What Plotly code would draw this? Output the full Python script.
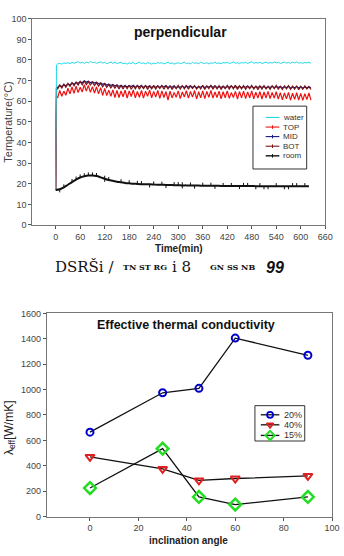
import plotly.graph_objects as go

# ---------------- top chart data (perpendicular) ----------------
TIME = [0, 2] + list(range(5, 630, 5))

WATER = [17.0, 77.6,
    78.1, 78.4, 78.0, 78.6, 78.3, 78.7, 78.2, 78.9, 78.4, 78.8,
    79.2, 78.5, 78.9, 78.3, 79.0, 78.6, 79.3, 78.7, 78.9, 78.4,
    78.8, 79.1, 78.5, 78.9, 78.2, 78.7, 79.0, 78.4, 78.8, 78.3,
    78.6, 78.9, 78.2, 78.5, 78.0, 78.6, 78.3, 78.8, 78.1, 78.5,
    78.9, 78.3, 78.6, 78.1, 78.7, 78.4, 78.0, 78.5, 78.2, 78.8,
    78.4, 78.7, 78.1, 78.5, 78.9, 78.3, 78.6, 78.0, 78.4, 78.7,
    78.2, 78.6, 78.9, 78.3, 78.5, 78.1, 78.8, 78.4, 78.6, 78.2,
    78.9, 78.5, 78.3, 78.7, 78.1, 78.6, 78.4, 79.0, 78.3, 78.6,
    78.2, 78.8, 78.5, 78.9, 78.3, 78.6, 79.1, 78.4, 78.7, 78.2,
    78.8, 78.5, 78.9, 78.3, 78.7, 79.2, 78.4, 78.8, 78.5, 78.9,
    78.3, 78.7, 79.0, 78.4, 78.8, 78.5, 79.1, 78.6, 78.9, 78.3,
    78.7, 79.0, 78.5, 78.8, 78.4, 78.9, 78.6, 79.1, 78.5, 78.7,
    78.4, 78.8, 78.6, 78.9, 78.3]

TOP = [17.0, 62.0,
    61.8, 65.2, 62.4, 64.9, 62.9, 66.3, 63.6, 66.9, 63.8, 67.3,
    64.2, 66.8, 64.5, 68.0, 64.9, 67.7, 64.3, 67.1, 64.0, 67.0,
    63.6, 66.6, 62.8, 66.2, 62.7, 65.4, 62.4, 65.5, 61.8, 65.3,
    61.8, 65.0, 62.2, 65.4, 61.5, 65.0, 62.3, 65.5, 61.6, 64.7,
    61.9, 65.3, 61.5, 64.9, 62.4, 65.4, 61.7, 64.8, 62.0, 65.2,
    61.4, 65.0, 61.8, 64.7, 60.6, 64.9, 61.6, 64.3, 61.9, 65.0,
    61.3, 64.5, 62.1, 65.1, 61.5, 64.7, 62.0, 65.2, 61.1, 64.6,
    61.7, 65.0, 61.3, 64.8, 61.9, 65.3, 61.5, 64.5, 61.8, 64.9,
    61.2, 64.6, 61.7, 65.0, 61.4, 64.2, 61.8, 64.8, 61.1, 64.7,
    61.6, 64.9, 61.3, 64.5, 61.7, 65.0, 61.2, 64.4, 61.5, 64.7,
    61.1, 64.5, 61.6, 64.8, 61.3, 64.3, 61.5, 64.6, 61.0, 64.2,
    60.7, 64.0, 61.2, 64.3, 60.5, 63.9, 60.9, 64.1, 60.6, 63.8,
    60.4, 63.7, 60.8, 64.0, 60.5]

MID = [17.0, 66.5,
    66.8, 67.6, 67.1, 68.0, 67.5, 68.4, 67.9, 68.8, 68.3, 69.1,
    68.7, 69.5, 69.0, 69.9, 69.2, 69.7, 69.0, 69.4, 68.8, 69.2,
    68.5, 68.9, 68.2, 68.6, 67.9, 68.3, 67.6, 68.1, 67.4, 67.9,
    67.2, 67.8, 67.0, 67.6, 66.9, 67.5, 67.1, 67.7, 66.8, 67.4,
    67.0, 67.6, 66.7, 67.3, 66.9, 67.5, 66.6, 67.2, 66.8, 67.4,
    66.7, 67.3, 66.9, 67.6, 66.6, 67.2, 66.8, 67.5, 66.5, 67.1,
    66.8, 67.4, 66.6, 67.2, 66.9, 67.5, 66.7, 67.3, 66.5, 67.1,
    66.8, 67.4, 66.6, 67.2, 66.9, 67.3, 66.7, 67.5, 66.6, 67.1,
    66.7, 67.3, 66.5, 67.2, 66.8, 67.4, 66.6, 67.0, 66.7, 67.3,
    66.5, 67.1, 66.8, 67.4, 66.6, 67.2, 66.4, 67.0, 66.7, 67.3,
    66.6, 67.2, 66.4, 67.0, 66.7, 67.3, 66.5, 67.1, 66.6, 67.2,
    66.4, 67.0, 66.6, 67.2, 66.3, 66.9, 66.5, 67.1, 66.4, 67.0,
    66.3, 66.9, 66.5, 67.0, 66.4]

BOT = [17.0, 66.0,
    66.0, 67.9, 66.4, 68.3, 66.8, 68.6, 67.2, 69.0, 67.5, 69.3,
    67.8, 69.6, 68.0, 69.8, 68.1, 69.5, 67.9, 69.3, 67.6, 69.0,
    67.3, 68.8, 67.0, 68.5, 66.7, 68.2, 66.5, 67.9, 66.3, 67.8,
    66.0, 67.7, 65.9, 67.6, 66.1, 67.8, 65.8, 67.5, 66.0, 67.9,
    65.8, 67.6, 66.1, 67.8, 65.7, 67.4, 66.0, 67.7, 65.9, 67.5,
    66.2, 67.8, 65.8, 67.5, 66.0, 67.6, 65.7, 67.3, 66.1, 67.7,
    65.9, 67.5, 66.0, 67.8, 65.8, 67.4, 66.2, 67.6, 65.9, 67.3,
    66.0, 67.7, 65.7, 67.5, 66.1, 67.8, 65.9, 67.4, 66.0, 67.6,
    65.8, 67.3, 66.1, 67.7, 65.9, 67.5, 66.0, 67.8, 65.7, 67.4,
    66.0, 67.6, 65.8, 67.3, 66.1, 67.7, 65.9, 67.5, 65.6, 67.4,
    65.9, 67.6, 66.0, 67.3, 65.8, 67.5, 66.1, 67.7, 65.9, 67.2,
    65.7, 67.4, 66.0, 67.6, 65.8, 67.3, 65.9, 67.5, 65.6, 67.2,
    65.8, 67.4, 65.9, 67.1, 65.7]

ROOM_TIME = list(range(0, 630, 10))
ROOM = [17.0, 17.3, 18.2, 19.5, 20.8, 22.0, 23.0, 23.6, 24.0, 24.0,
        23.7, 23.1, 22.4, 21.8, 21.4, 21.0, 20.7, 20.4, 20.2, 20.0,
        19.9, 19.8, 19.7, 19.7, 19.6, 19.5, 19.5, 19.4, 19.4, 19.3,
        19.3, 19.2, 19.2, 19.1, 19.1, 19.1, 19.0, 19.0, 19.0, 19.0,
        19.0, 18.9, 18.9, 18.9, 18.9, 18.9, 18.9, 18.9, 18.9, 18.8,
        18.8, 18.8, 18.8, 18.8, 18.8, 18.8, 18.8, 18.8, 18.8, 18.8,
        18.8, 18.8, 18.8]
ROOM_ERR_UP = [0, 0, 1.5, 0, 1.5, 1.5, 1.5, 1.5, 1.5, 1.5,
               1.5, 0, 1.5, 1.5, 0, 0, 1.5, 0, 1.5, 0,
               1.5, 1.5, 0, 0, 1.5, 0, 1.5, 0, 0, 1.5,
               1.5, 1.5, 0, 1.5, 0, 0, 1.5, 0, 1.5, 0,
               0, 1.5, 0, 1.5, 0, 0, 1.5, 1.5, 0, 0,
               1.5, 0, 0, 0, 1.5, 0, 0, 0, 1.5, 1.5,
               0, 1.5, 0]
ROOM_ERR_DOWN = [0, 1.5, 0, 0, 0, 0, 0, 0, 0, 0,
                 0, 0, 1.5, 0, 0, 0, 0, 0, 0, 0,
                 0, 0, 0, 1.5, 0, 0, 0, 1.5, 0, 0,
                 0, 1.5, 0, 0, 1.5, 0, 0, 0, 0, 1.5,
                 0, 0, 0, 0, 0, 1.5, 0, 0, 0, 1.5,
                 0, 1.5, 1.5, 0, 0, 0, 1.5, 1.5, 0, 0,
                 0, 0, 0]

TIME_TICKS = list(range(0, 661, 60))
TEMP_TICKS = list(range(0, 101, 10))
TOP_NAMES = ["water", "TOP", "MID", "BOT", "room"]

# ---------------- bottom chart data (effective conductivity) ----------------
ANGLE = [0, 30, 45, 60, 90]
K20 = [665, 975, 1010, 1405, 1270]
K40 = [470, 375, 285, 300, 320]
K15 = [225, 535, 155, 95, 155]
ANGLE_TICKS = [0, 20, 40, 60, 80, 100]
K_TICKS = list(range(0, 1601, 200))
BOTTOM_NAMES = ["20%", "40%", "15%"]

W, H = 344, 556
FONT = "Arial, Liberation Sans, sans-serif"

def px_x(v):
    return v / W

def px_y(v):
    return 1 - v / H

C_WATER, C_TOP, C_MID, C_BOT, C_ROOM = "#22d8e8", "#f01010", "#1a1a80", "#7a1418", "#111111"
C20, C40, C15 = "#0000cc", "#e02020", "#22dd22"

fig = go.Figure()

# top chart traces
fig.add_trace(go.Scatter(x=TIME, y=MID, mode="lines", name="MID",
                         line=dict(color=C_MID, width=1.2), xaxis="x", yaxis="y"))
fig.add_trace(go.Scatter(x=TIME, y=BOT, mode="lines", name="BOT",
                         line=dict(color=C_BOT, width=1.2), xaxis="x", yaxis="y"))
fig.add_trace(go.Scatter(x=TIME, y=TOP, mode="lines", name="TOP",
                         line=dict(color=C_TOP, width=1.2), xaxis="x", yaxis="y"))
fig.add_trace(go.Scatter(x=TIME, y=WATER, mode="lines", name="water",
                         line=dict(color=C_WATER, width=1), xaxis="x", yaxis="y"))
fig.add_trace(go.Scatter(x=ROOM_TIME, y=ROOM, mode="lines", name="room",
                         line=dict(color=C_ROOM, width=2, shape="spline"),
                         error_y=dict(type="data", symmetric=False, array=ROOM_ERR_UP,
                                      arrayminus=ROOM_ERR_DOWN, color=C_ROOM,
                                      thickness=1, width=0),
                         xaxis="x", yaxis="y"))

# bottom chart traces
MARK = {
    "20%": dict(symbol="circle-open", color=C20, size=7, line=dict(width=2)),
    "40%": dict(symbol="triangle-down-open", color=C40, size=8, line=dict(width=2)),
    "15%": dict(symbol="diamond-open", color=C15, size=9, line=dict(width=2.5)),
}
LEG_MARK = {
    "20%": dict(symbol="circle-open", color=C20, size=6, line=dict(width=1.8)),
    "40%": dict(symbol="triangle-down-open", color=C40, size=6, line=dict(width=1.8)),
    "15%": dict(symbol="diamond-open", color=C15, size=7, line=dict(width=2)),
}
for name, vals in zip(BOTTOM_NAMES, [K20, K40, K15]):
    fig.add_trace(go.Scatter(x=ANGLE, y=vals, mode="lines+markers", name=name,
                             line=dict(color="#111111", width=1.3), marker=MARK[name],
                             xaxis="x2", yaxis="y2"))

# ---- custom compact legends (overlay axis in pixel units) ----
top_leg_colors = [C_WATER, C_TOP, C_MID, C_BOT, C_ROOM]
top_leg_y = [114.5, 124.3, 134.0, 143.8, 153.6]
for name, col, yy in zip(TOP_NAMES, top_leg_colors, top_leg_y):
    fig.add_trace(go.Scatter(x=[272, 286], y=[yy, yy], mode="lines",
                             line=dict(color=col, width=1.1 if name != "room" else 1.4),
                             xaxis="x3", yaxis="y3", hoverinfo="skip"))
    if name != "water":
        fig.add_trace(go.Scatter(x=[279], y=[yy], mode="markers",
                                 marker=dict(symbol="line-ns", size=2.5,
                                             line=dict(color=col, width=1)),
                                 xaxis="x3", yaxis="y3", hoverinfo="skip"))

bot_leg_y = [417.3, 427.5, 438.3]
for name, yy in zip(BOTTOM_NAMES, bot_leg_y):
    fig.add_trace(go.Scatter(x=[267, 286], y=[yy, yy], mode="lines",
                             line=dict(color="#111111", width=1.3),
                             xaxis="x3", yaxis="y3", hoverinfo="skip"))
    fig.add_trace(go.Scatter(x=[276.5], y=[yy], mode="markers", marker=LEG_MARK[name],
                             xaxis="x3", yaxis="y3", hoverinfo="skip"))

axis_common = dict(showgrid=False, zeroline=False, showline=True, linecolor="#777777",
                   linewidth=1, mirror=True, ticks="outside", ticklen=3,
                   tickcolor="#555555", tickfont=dict(family=FONT, size=9, color="#444444"))

fig.update_layout(
    width=W, height=H, margin=dict(l=0, r=0, t=0, b=0),
    paper_bgcolor="white", plot_bgcolor="rgba(0,0,0,0)",
    showlegend=False,
    xaxis=dict(domain=[px_x(33), px_x(333)], range=[-57.4, 660], tickvals=TIME_TICKS,
               anchor="y", **axis_common),
    yaxis=dict(domain=[px_y(224), px_y(14)], range=[0, 100], tickvals=TEMP_TICKS,
               anchor="x", **axis_common),
    xaxis2=dict(domain=[px_x(48), px_x(340)], range=[-17.8, 100], tickvals=ANGLE_TICKS,
                anchor="y2", **axis_common),
    yaxis2=dict(domain=[px_y(521), px_y(314)], range=[0, 1600], tickvals=K_TICKS,
                anchor="x2", **axis_common),
    xaxis3=dict(domain=[0, 1], range=[0, W], visible=False, anchor="y3", fixedrange=True),
    yaxis3=dict(domain=[0, 1], range=[H, 0], visible=False, anchor="x3", fixedrange=True),
)

shapes = [
    dict(type="rect", xref="paper", yref="paper", x0=px_x(259), x1=px_x(314),
         y0=px_y(167), y1=px_y(103), line=dict(color="#333333", width=1),
         fillcolor="white", layer="below"),
    dict(type="rect", xref="paper", yref="paper", x0=px_x(261), x1=px_x(312),
         y0=px_y(444), y1=px_y(408), line=dict(color="#333333", width=1),
         fillcolor="white", layer="below"),
]
fig.update_layout(shapes=shapes)

annotations = [
    dict(text="<b>perpendicular</b>", x=px_x(185), y=px_y(27), font=dict(size=14, color="#111111")),
    dict(text="<b>Time(min)</b>", x=px_x(183), y=px_y(248), font=dict(size=10, color="#222222")),
    dict(text="Temperature(°C)", x=px_x(8), y=px_y(119), textangle=-90,
         font=dict(size=11, color="#444444")),
    dict(text="<b>Effective thermal conductivity</b>", x=px_x(190), y=px_y(326),
         font=dict(size=12.5, color="#111111")),
    dict(text="<b>inclination angle</b>", x=px_x(193), y=px_y(545), font=dict(size=10, color="#222222")),
    dict(text="λ<sub>eff</sub>[W/mK]", x=px_x(10), y=px_y(430), textangle=-90,
         font=dict(size=12, color="#222222")),
]
for name, yy in zip(TOP_NAMES, top_leg_y):
    annotations.append(dict(text=name, x=px_x(288), y=px_y(yy), xanchor="left",
                            font=dict(size=8, color="#333333")))
for name, yy in zip(BOTTOM_NAMES, bot_leg_y):
    annotations.append(dict(text=name, x=px_x(289), y=px_y(yy), xanchor="left",
                            font=dict(size=9, color="#333333")))
caption = [
    ("DSRŠi /", 86, 15, "DejaVu Serif"),
    ("<b>TN ST RG</b>", 148, 8, "DejaVu Serif"),
    ("i 8", 186, 15, "DejaVu Serif"),
    ("<b>GN SS NB</b>", 238, 8, "DejaVu Serif"),
    ("<b><i>99</i></b>", 282, 16, "Arial, Liberation Sans"),
]
for txt, cx, size, fam in caption:
    annotations.append(dict(text=txt, x=px_x(cx), y=px_y(267),
                            font=dict(size=size, family=fam, color="#111111")))
for a in annotations:
    a.setdefault("xanchor", "center")
    a.update(xref="paper", yref="paper", showarrow=False, yanchor="middle")
    a["font"].setdefault("family", FONT)
fig.update_layout(annotations=annotations)

fig.write_html("out.html")
